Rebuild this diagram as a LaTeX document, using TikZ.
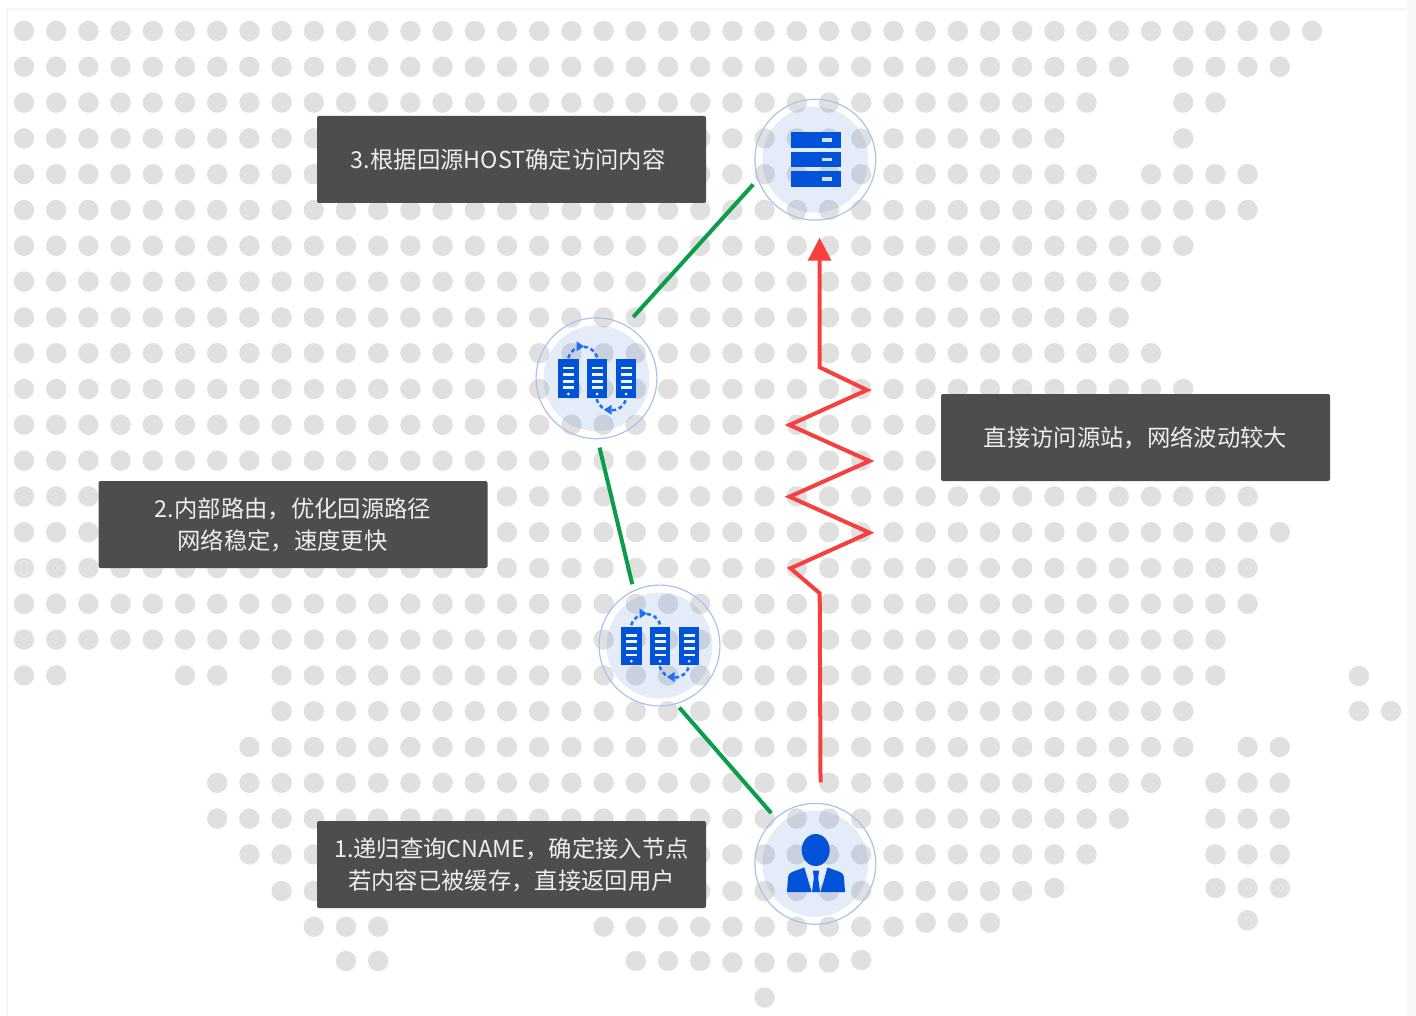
\documentclass[tikz,border=0pt]{standalone}
\usepackage{fontspec}
\setmainfont{Noto Sans CJK SC}
\usetikzlibrary{arrows.meta}
\definecolor{dotc}{HTML}{E0E0E0}
\definecolor{discc}{RGB}{47,109,216}
\definecolor{ringc}{HTML}{A8C3EE}
\definecolor{iconc}{HTML}{0052D9}
\definecolor{dashc}{HTML}{1F6FF0}
\definecolor{greenc}{HTML}{0A9E4A}
\definecolor{redc}{HTML}{F5403F}
\definecolor{boxc}{HTML}{4D4D4D}
\definecolor{framec}{HTML}{F5F5F5}
\definecolor{stripc}{HTML}{F8F8FB}
\tikzset{
  hub/.style={circle,draw=ringc,line width=0.9pt,minimum size=90.6pt,inner sep=0pt},
  disc/.style={fill=discc,fill opacity=0.13},
  infobox/.style={fill=boxc,text=white!93!black,rounded corners=1.5pt,minimum width=291.75pt,minimum height=65.25pt,inner sep=0pt,align=center,font=\fontsize{17.5}{24}\selectfont},
  greenline/.style={draw=greenc,line width=3pt},
  redline/.style={draw=redc,line width=3pt},
  arc/.style={draw=dashc,line width=1.9pt,dash pattern=on 3pt off 2.2pt},
}
\newcommand\dotrow[3]{\foreach \i in {#2,...,#3}{\fill[dotc] ({24+32.2*\i},{31+35.8*#1}) circle (10.2);}}
\newcommand\dotrowy[3]{\foreach \i in {#2,...,#3}{\fill[dotc] ({24+32.2*\i},#1) circle (10.2);}}
\newcommand\dotone[2]{\fill[dotc] (#1,#2) circle (10.2);}
\newcommand\clustericon[2]{%
  \begin{scope}[shift={(#1,#2)}]
    \foreach \bx in {-38.2,-9.5,19.5}{
      \fill[iconc] (\bx,-19) rectangle ++(20.2,38.4);
      \foreach \by in {-10.4,-3.8,2.9,9.5}{\fill[white!94!iconc] ({\bx+4.5},{\by-1.4}) rectangle ++(11.2,2.8);}
      \fill[white] ({\bx+10.1},15.7) circle (1.5);
    }
    \draw[arc] (-28.2,-20.3) .. controls (-24,-35.3) and (-3,-35.3) .. (0.8,-20.3);
    \draw[arc] (0.2,20.7) .. controls (4,36) and (25.5,36) .. (29.5,20.7);
    \fill[dashc] (-12.5,-32) -- (-20,-37) -- (-20,-27) -- cycle;
    \fill[dashc] (7.5,31.5) -- (15,26.5) -- (15,36.5) -- cycle;
  \end{scope}}
\begin{document}
\begin{tikzpicture}[x=0.75pt,y=-0.75pt]
\useasboundingbox (0,0) rectangle (1416,1016);
\fill[white] (0,0) rectangle (1416,1016);
\fill[stripc] (1407,0) rectangle (1416,1016);
\draw[framec,line width=0.8pt] (7,1016) -- (7,9) -- (1407,9);
% dot map
\dotrow{0}{0}{40}
\dotrow{1}{0}{34}\dotrow{1}{36}{39}
\dotrow{2}{0}{33}\dotrow{2}{36}{37}
\dotrow{3}{0}{32}\dotrow{3}{36}{36}
\dotrow{4}{0}{33}\dotrow{4}{35}{38}
\dotrow{5}{0}{38}
\dotrow{6}{0}{36}
\dotrow{7}{0}{35}
\dotrow{8}{0}{34}
\dotrow{9}{0}{35}
\dotrow{10}{0}{36}
\dotrow{11}{0}{36}
\dotrow{12}{0}{36}
\dotrow{13}{0}{38}
\dotrow{14}{0}{39}
\dotrow{15}{0}{38}
\dotrow{16}{0}{38}
\dotrow{17}{0}{37}
\dotrow{18}{0}{1}\dotrow{18}{5}{6}\dotrow{18}{8}{37}
\dotrow{19}{8}{36}
\dotrow{20}{7}{36}\dotrow{20}{38}{39}
\dotrow{21}{6}{35}\dotrow{21}{37}{39}
\dotrow{22}{6}{34}\dotrow{22}{37}{39}
\dotrow{23}{7}{33}\dotrow{23}{37}{39}
\dotrowy{891}{8}{31}\dotrowy{888}{32}{32}\dotrowy{888}{37}{39}
\dotrowy{926.7}{9}{11}\dotrowy{926.7}{18}{27}\dotrowy{922.7}{28}{30}\dotrowy{920.3}{38}{38}
\dotrowy{961}{10}{11}\dotrowy{961}{19}{21}\dotrowy{962.5}{22}{25}\dotrowy{960}{26}{26}
\dotrow{27}{23}{23}
\dotone{1359}{676}\dotone{1359}{711}\dotone{1391}{711}
% hubs
\fill[disc] (815.3,159.7) circle (53);
\fill[disc] (596.5,378.3) circle (53);
\fill[disc] (659.5,645.5) circle (53);
\fill[disc] (815.3,863.8) circle (53);
\node[hub] (origin) at (815.3,159.7) {};
\node[hub] (edgeb) at (596.5,378.3) {};
\node[hub] (edgea) at (659.5,645.5) {};
\node[hub] (user) at (815.3,863.8) {};
% origin server icon
\foreach \by in {132.3,151.7,171.2}{
  \fill[iconc] (790.7,\by) rectangle (841,{\by+15.5});
  \fill[white!82!iconc] (822,{\by+6.2}) rectangle (831.7,{\by+9.4});
}
\clustericon{596.5}{378.3}
\clustericon{659.5}{645.5}
% user icon
\fill[iconc] (815.7,850) ellipse (14 and 16);
\fill[iconc] (787,892) -- (788,877) .. controls (788.5,874) and (790,873) .. (792,872) -- (804.3,867.5) -- (811.7,892.2) -- cycle;
\fill[iconc] (845,892) -- (844,877) .. controls (843.5,874) and (842,873) .. (840,872) -- (827.5,867.5) -- (820.5,892.2) -- cycle;
\fill[iconc] (813,870.7) -- (819,870.7) -- (818.2,878) -- (820,892.2) -- (812,892.2) -- (813.8,878) -- cycle;
% connectors
\draw[greenline,shorten <=4.95pt,shorten >=7.95pt] (origin.199.8) -- (edgeb.61.7);
\draw[greenline,shorten <=6.4pt,shorten >=4.65pt] (edgeb.271.5) -- (edgea.115.6);
\draw[greenline,shorten <=3.4pt,shorten >=4.65pt] (edgea.286) -- (user.131.8);
\coordinate (z0) at (819.7,593.3);
\coordinate (z1) at (790.5,568.3);
\coordinate (z2) at (869.5,532.7);
\coordinate (z3) at (789.5,496.7);
\coordinate (z4) at (869.5,461);
\coordinate (z5) at (789.5,425);
\coordinate (z6) at (867,390);
\coordinate (z7) at (819.7,367.3);
\draw[redline,shorten <=15.5pt,shorten >=12.8pt,-{Triangle[length=17.3pt,width=17pt]},line join=miter]
  (user.85.5) -- (z0) -- (z1) -- (z2) -- (z3) -- (z4) -- (z5) -- (z6) -- (z7) -- (origin.274);
% labels
\node[infobox] (step3) at (511.5,159.5) {3.根据回源HOST确定访问内容\hspace*{5pt}};
\node[infobox] (direct) at (1135.5,437.5) {直接访问源站，网络波动较大};
\node[infobox] (step2) at (293,524.5) {2.内部路由，优化回源路径\\网络稳定，速度更快\hspace*{15.75pt}};
\node[infobox] (step1) at (511.5,864.5) {1.递归查询CNAME，确定接入节点\\若内容已被缓存，直接返回用户};
\end{tikzpicture}
\end{document}
